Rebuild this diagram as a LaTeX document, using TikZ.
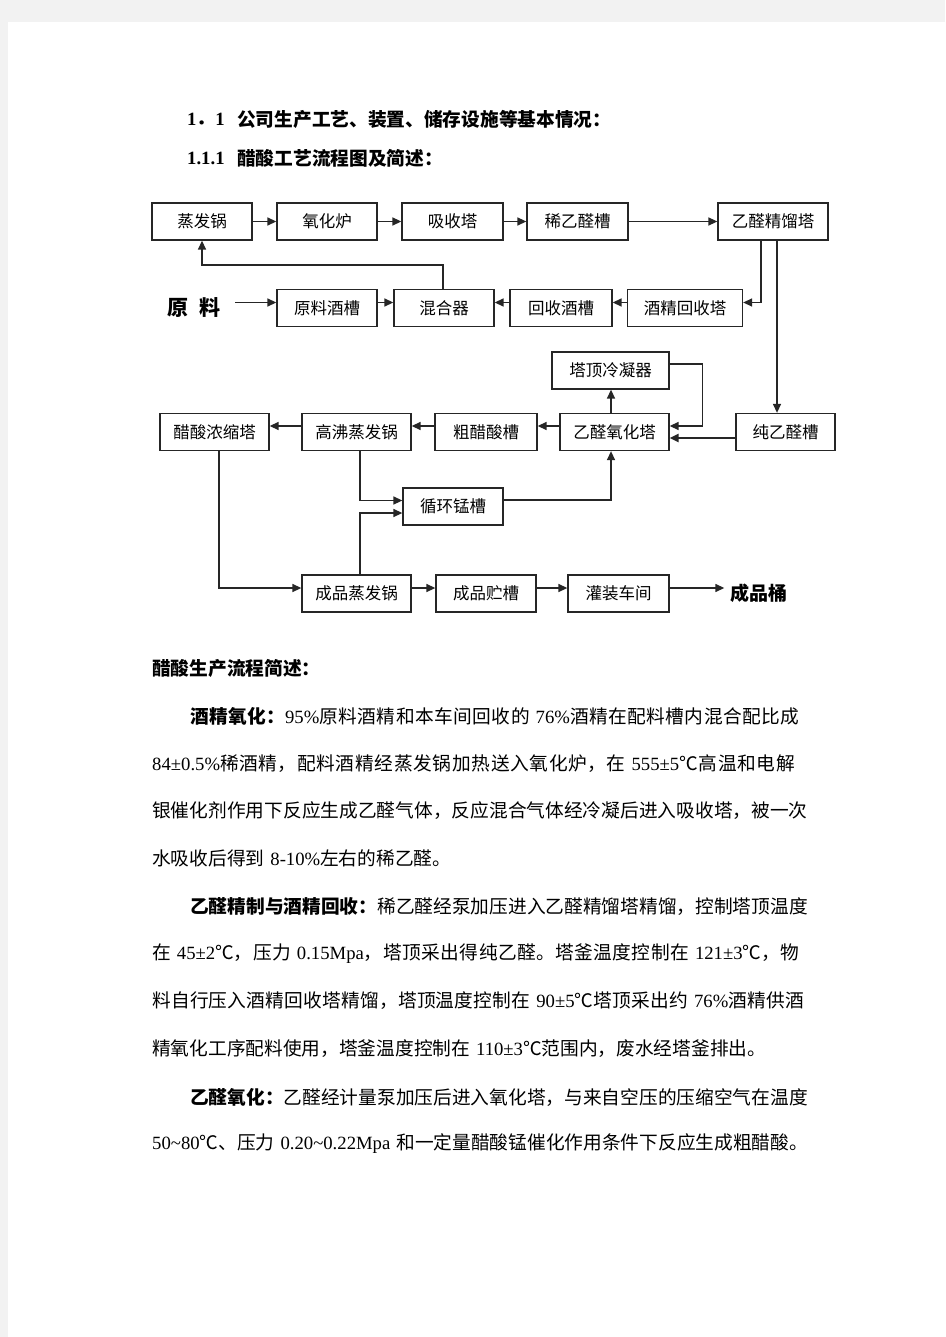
\documentclass[tikz,border=0pt]{standalone}
\usepackage{fontspec}
\setmainfont{Noto Sans CJK SC}
\newfontfamily\lt{Liberation Serif}
\usetikzlibrary{arrows.meta}
\XeTeXlinebreaklocale "zh"
\XeTeXlinebreakskip=0pt plus 2pt
\tolerance=9999

\begin{document}
\begin{tikzpicture}[x=1pt,y=-1pt]

      % Styles for the process boxes, the flow arrows and the lines of text
      \tikzstyle{unit}=[draw=black!85, line width=1.3pt, minimum height=37pt, inner sep=0pt, font=\fontsize{16.5}{18}\selectfont]
      \tikzstyle{flow}=[draw=black!85, line width=1.4pt, -{Triangle[length=9pt,width=8pt]}]
      \tikzstyle{txt}=[anchor=west, inner sep=0pt, font=\fontsize{18.7}{21}\selectfont]
      \tikzstyle{fullline}=[txt, text width=656pt]   % justified full line
      \tikzstyle{indline}=[txt, text width=618pt]    % justified indented line
      \tikzstyle{head}=[anchor=west, inner sep=0pt, font=\fontsize{18.7}{21}\selectfont\bfseries]

      % Dimensions
      \def\up{5.5pt}     % arrows run a little above the middle of a box
      \def\gap{\hspace{6pt}}  % the small space before numbers in the text
      \def\just{\parfillskip=0pt\par}  % ends a line that runs to the right margin

      % Page
      \fill[black!5] (0,0) rectangle (945,1337);
      \fill[white] (8,22) rectangle (945,1337);
      \useasboundingbox (0,0) rectangle (945,1337);

      % Headings
      \node[head] (secnum) at (187,119) {{\lt 1}．{\lt 1}};
      \node[head] (sectitle) at (237,119) {公司生产工艺、装置、储存设施等基本情况：};
      \node[head] (subnum) at (187,158) {\lt 1.1.1};
      \node[head] (subtitle) at (237,158) {醋酸工艺流程图及简述：};

      % First row
      \node[unit, minimum width=100pt] (evap) at (202,221.5) {蒸发锅};
      \node[unit, minimum width=100pt] (oxfurn) at (327,221.5) {氧化炉};
      \node[unit, minimum width=101pt] (absorb) at (452.5,221.5) {吸收塔};
      \node[unit, minimum width=101pt] (diltank) at (577.5,221.5) {稀乙醛槽};
      \node[unit, minimum width=110pt] (acdist) at (773,221.5) {乙醛精馏塔};

      % Second row
      \node[inner sep=0pt, font=\fontsize{21}{23}\selectfont\bfseries] (raw) at (194,308) {原\hspace{12pt}料};
      \node[unit, minimum width=100pt] (rawtank) at (327,308) {原料酒槽};
      \node[unit, minimum width=100pt] (mixer) at (444,308) {混合器};
      \node[unit, minimum width=102pt] (rectank) at (561,308) {回收酒槽};
      \node[unit, minimum width=115pt] (alcrec) at (685,308) {酒精回收塔};

      % Third row
      \node[unit, minimum width=117pt] (cond) at (610.5,370.5) {塔顶冷凝器};
      \node[unit, minimum width=109pt] (oxtower) at (614.5,432) {乙醛氧化塔};
      \node[unit, minimum width=99pt] (puretank) at (785.5,432) {纯乙醛槽};
      \node[unit, minimum width=102pt] (crudetank) at (486,432) {粗醋酸槽};
      \node[unit, minimum width=109pt] (hbevap) at (356.5,432) {高沸蒸发锅};
      \node[unit, minimum width=109pt] (conctower) at (214.5,432) {醋酸浓缩塔};
      \node[unit, minimum width=100pt] (mntank) at (453,506.5) {循环锰槽};

      % Fourth row
      \node[unit, minimum width=109pt] (prodevap) at (356.5,593.5) {成品蒸发锅};
      \node[unit, minimum width=100pt] (prodtank) at (486,593.5) {成品贮槽};
      \node[unit, minimum width=101pt] (filling) at (618.5,593.5) {灌装车间};
      \node[inner sep=0pt, font=\fontsize{19}{21}\selectfont\bfseries] (barrel) at (759,593.5) {成品桶};

      % Flow arrows
      \draw[flow] (evap.east) -- (oxfurn.west);
      \draw[flow] (oxfurn.east) -- (absorb.west);
      \draw[flow] (absorb.east) -- (diltank.west);
      \draw[flow] (diltank.east) -- (acdist.west);

      \draw[flow] ([xshift=14pt,yshift=\up]raw.east) -- ([yshift=\up]rawtank.west);
      \draw[flow] ([yshift=\up]rawtank.east) -- ([yshift=\up]mixer.west);
      \draw[flow] ([yshift=\up]rectank.west) -- ([yshift=\up]mixer.east);
      \draw[flow] ([yshift=\up]alcrec.west) -- ([yshift=\up]rectank.east);
      \draw[flow] ([xshift=-1pt]mixer.north) -- ++(0,-24) -| (evap.south);
      \draw[flow] ([xshift=-12pt]acdist.south) |- ([yshift=\up]alcrec.east);
      \draw[flow] ([xshift=4pt]acdist.south) -- ([xshift=4pt]acdist.south |- puretank.north);

      \draw[flow] ([xshift=-3.5pt]oxtower.north) -- ([xshift=-3.5pt]oxtower.north |- cond.south);
      \draw[flow] ([yshift=6.5pt]cond.east) -- ++(33,0) |- ([yshift=6pt]oxtower.east);
      \draw[flow, line width=2.2pt] ([yshift=-6pt]puretank.west) -- ([yshift=-6pt]oxtower.east);
      \draw[flow] ([yshift=6pt]oxtower.west) -- ([yshift=6pt]crudetank.east);
      \draw[flow] ([yshift=6pt]crudetank.west) -- ([yshift=6pt]hbevap.east);
      \draw[flow] ([yshift=6pt]hbevap.west) -- ([yshift=6pt]conctower.east);
      \draw[flow] ([yshift=6.5pt]mntank.east) -| ([xshift=-3.5pt]oxtower.south);
      \draw[flow] ([xshift=3.5pt]hbevap.south) |- ([yshift=6pt]mntank.west);
      \draw[flow] ([xshift=3.5pt]prodevap.north) |- ([yshift=-6.5pt]mntank.west);
      \draw[flow] ([xshift=4.5pt]conctower.south) |- ([yshift=\up]prodevap.west);

      \draw[flow] ([yshift=\up]prodevap.east) -- ([yshift=\up]prodtank.west);
      \draw[flow] ([yshift=\up]prodtank.east) -- ([yshift=\up]filling.west);
      \draw[flow] ([yshift=\up]filling.east) -- ([xshift=-6pt,yshift=\up]barrel.west);

      % Text below the chart
      \node[txt, font=\fontsize{18.7}{21}\selectfont\bfseries] (brief) at (152,668) {醋酸生产流程简述：};

      \node[indline] (l1) at (190,716) {{\bfseries 酒精氧化：}{\lt 95\%}原料酒精和本车间回收的\gap{\lt 76\%}酒精在配料槽内混合配比成\just};
      \node[fullline] (l2) at (152,764) {{\lt 84±0.5\%}稀酒精，配料酒精经蒸发锅加热送入氧化炉，在\gap{\lt 555±5}℃高温和电解\just};
      \node[fullline] (l3) at (152,811) {银催化剂作用下反应生成乙醛气体，反应混合气体经冷凝后进入吸收塔，被一次\just};
      \node[txt] (l4) at (152,858) {水吸收后得到\gap{\lt 8-10\%}左右的稀乙醛。};

      \node[indline] (l5) at (190,906) {{\bfseries 乙醛精制与酒精回收：}稀乙醛经泵加压进入乙醛精馏塔精馏，控制塔顶温度\just};
      \node[fullline] (l6) at (152,954) {在\gap{\lt 45±2}℃，压力\gap{\lt 0.15Mpa}，塔顶采出得纯乙醛。塔釜温度控制在\gap{\lt 121±3}℃，物\just};
      \node[fullline] (l7) at (152,1001) {料自行压入酒精回收塔精馏，塔顶温度控制在\gap{\lt 90±5}℃塔顶采出约\gap{\lt 76\%}酒精供酒\just};
      \node[txt] (l8) at (152,1049) {精氧化工序配料使用，塔釜温度控制在\gap{\lt 110±3}℃范围内，废水经塔釜排出。};

      \node[indline] (l9) at (190,1097) {{\bfseries 乙醛氧化：}乙醛经计量泵加压后进入氧化塔，与来自空压的压缩空气在温度\just};
      \node[fullline] (l10) at (152,1144) {{\lt 50\textasciitilde80}℃、压力\gap{\lt 0.20\textasciitilde0.22Mpa}\gap 和一定量醋酸锰催化作用条件下反应生成粗醋酸。\just};

\end{tikzpicture}
\end{document}
